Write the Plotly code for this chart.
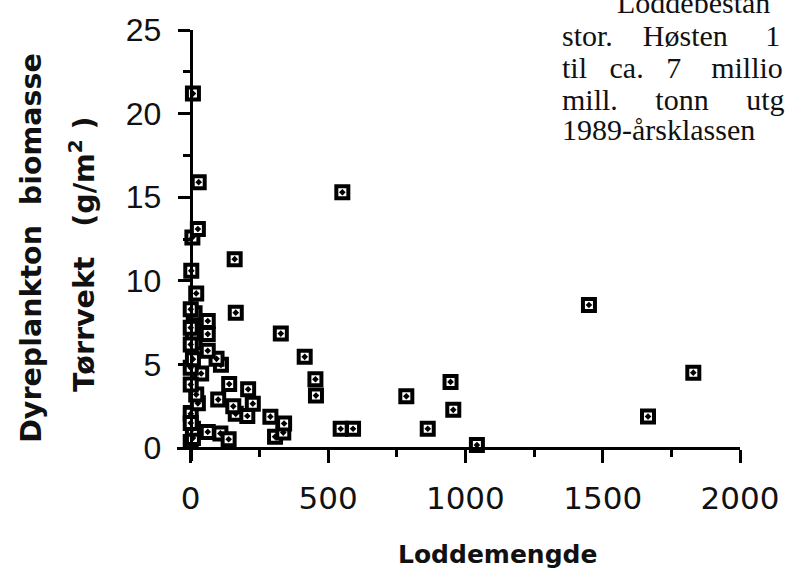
import plotly.graph_objects as go

# Loddemengde (capelin amount) vs. zooplankton dry-weight biomass (g/m2)
lodde = [0, 8, 8, 62, 108, 138, 307, 337, 1042,
         0, 0, 164, 206, 290, 340, 546, 591, 863,
         26, 100, 155, 226, 456, 785, 956, 1665,
         20, 140, 209, 454, 946, 1830,
         38, 0, 0, 110, 8, 94, 62, 415,
         14, 62, 8, 328, 0,
         11, 62, 14, 164, 0, 0, 1450,
         20, 2, 160, 6, 26, 552, 29, 8]
biomasse = [0.37, 0.6, 1.16, 0.97, 0.88, 0.53, 0.68, 0.93, 0.18,
            2.05, 1.5, 2.05, 1.92, 1.88, 1.47, 1.16, 1.16, 1.16,
            2.68, 2.9, 2.5, 2.66, 3.14, 3.1, 2.29, 1.89,
            3.2, 3.83, 3.52, 4.12, 3.96, 4.51,
            4.46, 3.8, 4.8, 4.98, 5.32, 5.34, 5.82, 5.46,
            6.32, 6.82, 6.9, 6.85, 6.2,
            7.44, 7.6, 8.07, 8.1, 8.3, 7.2, 8.56,
            9.25, 10.6, 11.3, 12.6, 13.1, 15.3, 15.9, 21.2]

x_ticks = [0, 500, 1000, 1500, 2000]
x_minor = [250, 750, 1250, 1750]
y_ticks = [0, 5, 10, 15, 20, 25]
y_minor = [2.5, 7.5, 12.5, 17.5, 22.5]


def gap(n):
    return "\u00a0" * n


# justified paragraph lines beside the chart (run off the right edge)
text_lines = ["Loddebestan",
              "stor." + gap(4) + "Høsten" + gap(5) + "1",
              "til" + gap(3) + "ca." + gap(3) + "7" + gap(4) + "millio",
              "mill." + gap(5) + "tonn" + gap(5) + "utg",
              "1989-årsklassen"]

W, H = 791, 576
L, R, T, B = 177, 42, 25, 115
X_RANGE = [-50, 2000]
Y_RANGE = [-0.77, 25]


def px(xp):
    return (xp - L) / (W - L - R)


def py(yp):
    return (H - B - yp) / (H - B - T)


fig = go.Figure()
fig.add_trace(go.Scatter(
    x=lodde, y=biomasse, mode="markers",
    marker=dict(symbol="square-dot", size=12, color="white",
                line=dict(color="black", width=4)),
    cliponaxis=False,
))

fig.update_xaxes(
    range=X_RANGE, tickvals=x_ticks, ticks="outside", ticklen=13, tickwidth=2.5,
    tickcolor="black", showline=True, linewidth=3, linecolor="black",
    showgrid=False, zeroline=False, anchor="free",
    position=(0 - Y_RANGE[0]) / (Y_RANGE[1] - Y_RANGE[0]),
    tickfont=dict(family="DejaVu Sans", size=31, color="#111"),
    ticklabelstandoff=9,
    minor=dict(tickvals=x_minor, ticks="outside", ticklen=7, tickwidth=2.5,
               tickcolor="black", showgrid=False),
)
fig.update_yaxes(
    range=Y_RANGE, tickvals=y_ticks, ticks="outside", ticklen=12, tickwidth=2.5,
    tickcolor="black", showline=True, linewidth=3, linecolor="black",
    showgrid=False, zeroline=False, anchor="free",
    position=(0 - X_RANGE[0]) / (X_RANGE[1] - X_RANGE[0]),
    tickfont=dict(family="Liberation Sans", size=32, color="#111"),
    ticklabelstandoff=10,
    minor=dict(tickvals=y_minor, ticks="outside", ticklen=7, tickwidth=2.5,
               tickcolor="black", showgrid=False),
)

ann = []
ann.append(dict(text="<b>Dyreplankton  biomasse</b>", x=px(29), y=py(245),
                textangle=-90, font=dict(family="DejaVu Sans", size=28.5, color="#111")))
ann.append(dict(text="<b>Tørrvekt   (g/m<sup>2</sup> )</b>", x=px(81), y=py(252),
                textangle=-90, font=dict(family="DejaVu Sans", size=28.5, color="#111")))
ann.append(dict(text="<b>Loddemengde</b>", x=px(400), y=py(556), xanchor="left",
                font=dict(family="DejaVu Sans", size=25, color="#111")))

starts = [622, 566, 566, 566, 566]
centers = [-3, 31, 63, 95, 126]
for line, xs, yc in zip(text_lines, starts, centers):
    ann.append(dict(text=line, x=px(xs), y=py(yc), xanchor="left",
                    font=dict(family="Liberation Serif", size=30, color="#111")))

for a in ann:
    a.update(xref="paper", yref="paper", showarrow=False)
    a.setdefault("xanchor", "center")
    a.setdefault("yanchor", "middle")

fig.update_layout(
    width=W, height=H, margin=dict(l=L, r=R, t=T, b=B),
    plot_bgcolor="white", paper_bgcolor="white", showlegend=False,
    annotations=ann,
)

fig.write_html("out.html")
